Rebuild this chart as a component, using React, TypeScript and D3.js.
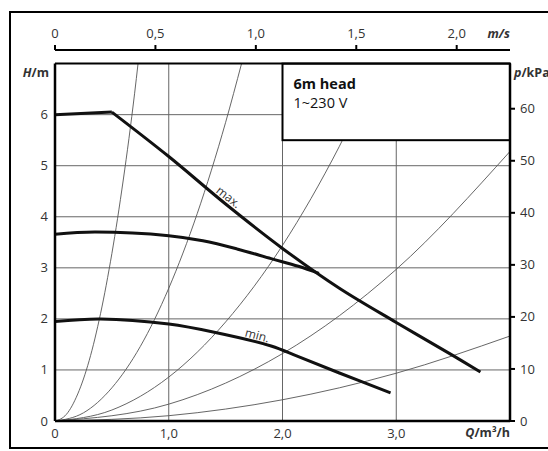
import React from "react";
import * as d3 from "d3";

// ---- data ----
const flowTicks = [0, 1, 2, 3];
const flowTickLabels = ["0", "1,0", "2,0", "3,0"];
const headTicks = [0, 1, 2, 3, 4, 5, 6];
const kpaTicks = [0, 10, 20, 30, 40, 50, 60];
const velocityTicks = [0, 0.5, 1.0, 1.5, 2.0];
const velocityTickLabels = ["0", "0,5", "1,0", "1,5", "2,0"];

// pump curves: [Q m³/h, H m]
const maxCurve: [number, number][] = [
  [0, 6.0], [0.5, 6.05], [1.0, 5.18], [1.5, 4.25], [2.0, 3.38],
  [2.5, 2.6], [3.0, 1.93], [3.5, 1.28], [3.74, 0.96],
];
const midCurve: [number, number][] = [
  [0, 3.66], [0.35, 3.7], [1.0, 3.63], [1.3, 3.53], [1.6, 3.37],
  [1.9, 3.18], [2.14, 3.03], [2.32, 2.89],
];
const minCurve: [number, number][] = [
  [0, 1.95], [0.4, 2.0], [1.0, 1.9], [1.4, 1.74], [1.9, 1.47],
  [2.14, 1.26], [2.5, 0.94], [2.95, 0.55],
];

// system curves (thin)
const sys1: [number, number][] = [
  [0, 0], [0.1, 0.13], [0.2, 0.53], [0.3, 1.18], [0.4, 2.1], [0.5, 3.28], [0.6, 4.72], [0.7, 6.42], [0.73, 7.0],
];
const sys2: [number, number][] = [
  [0, 0], [0.25, 0.16], [0.5, 0.65], [0.75, 1.46], [1.0, 2.6], [1.25, 4.06], [1.5, 5.85], [1.64, 7.0],
];
const sys3: [number, number][] = [
  [0, 0], [0.5, 0.215], [1.0, 0.86], [1.5, 1.94], [2.0, 3.44], [2.5, 5.38], [2.85, 7.0],
];
const sys4: [number, number][] = [
  [0, 0], [1, 0.33], [2, 1.32], [3, 2.97], [4, 5.28],
];
const sys5: [number, number][] = [
  [0, 0], [1, 0.104], [2, 0.416], [3, 0.936], [4, 1.664],
];
const systemCurves = [sys1, sys2, sys3, sys4, sys5];

const FONT = "'Open Sans', 'DejaVu Sans', sans-serif";
const TXT = "#333";

export default function App() {
  const W = 548, H = 451;
  const left = 55, right = 510, top = 63.6, bottom = 421;
  const x = d3.scaleLinear().domain([0, 4]).range([left, right]);
  const y = d3.scaleLinear().domain([0, 7]).range([bottom, top]);
  const yP = d3.scaleLinear().domain([0, 7 * 9.81]).range([bottom, top]);
  const xV = d3.scaleLinear().domain([0, 2]).range([left, 456.7]);

  const line = d3
    .line<[number, number]>()
    .x((d) => x(d[0]))
    .y((d) => y(d[1]))
    .curve(d3.curveMonotoneX);
  const lineSmooth = d3
    .line<[number, number]>()
    .x((d) => x(d[0]))
    .y((d) => y(d[1]))
    .curve(d3.curveCatmullRom.alpha(0.5));
  const lineStraight = d3
    .line<[number, number]>()
    .x((d) => x(d[0]))
    .y((d) => y(d[1]))
    .curve(d3.curveLinear);

  const gridH = [1, 2, 3, 4, 5, 6];
  const gridV = [1, 2, 3];
  const topAxisY = 50;

  return (
    <svg
      width={W}
      height={H}
      style={{ position: "absolute", left: 0, top: 0, background: "#fff" }}
      fontFamily={FONT}
    >
      <defs>
        <clipPath id="plot">
          <rect x={left} y={top} width={right - left} height={bottom - top} />
        </clipPath>
      </defs>
      {/* outer frame */}
      <rect x={10} y={12} width={560} height={436} fill="none" stroke="#000" strokeWidth={2} />

      {/* grid */}
      {gridH.map((v) => (
        <line key={"gh" + v} x1={left} x2={right} y1={y(v)} y2={y(v)} stroke="#666" strokeWidth={1} />
      ))}
      {gridV.map((v) => (
        <line key={"gv" + v} x1={x(v)} x2={x(v)} y1={top} y2={bottom} stroke="#666" strokeWidth={1} />
      ))}

      {/* system curves */}
      <g clipPath="url(#plot)">
        {systemCurves.map((c, i) => (
          <path key={"s" + i} d={line(c) || ""} fill="none" stroke="#555" strokeWidth={0.9} />
        ))}
      </g>

      {/* pump curves */}
      <g clipPath="url(#plot)" fill="none" stroke="#111" strokeWidth={3} strokeLinejoin="round">
        <path d={lineSmooth(midCurve) || ""} />
        <path d={lineSmooth(minCurve) || ""} />
        <path d={lineStraight(maxCurve.slice(0, 2)) || ""} />
        <path d={lineSmooth(maxCurve.slice(1)) || ""} />
      </g>

      {/* curve labels */}
      <text
        transform={`translate(${x(1.52)},${y(4.37)}) rotate(38)`}
        textAnchor="middle"
        dominantBaseline="middle"
        fontSize={12}
        fill={TXT}
      >
        max.
      </text>
      <text
        transform={`translate(${x(1.776)},${y(1.66)}) rotate(15)`}
        textAnchor="middle"
        dominantBaseline="middle"
        fontSize={12}
        fill={TXT}
      >
        min.
      </text>

      {/* info box */}
      <rect x={x(2)} y={top} width={right - x(2)} height={y(5.5) - top} fill="#fff" stroke="#000" strokeWidth={2} />
      <text x={x(2) + 11} y={89} fontSize={14.5} fontWeight="bold" fill="#111">
        6m head
      </text>
      <text x={x(2) + 11} y={108} fontSize={14.5} fill="#111">
        1~230 V
      </text>

      {/* plot frame */}
      <line x1={left} x2={right} y1={top} y2={top} stroke="#000" strokeWidth={2} />
      <line x1={left} x2={left} y1={top} y2={bottom} stroke="#000" strokeWidth={2.5} />
      <line x1={right} x2={right} y1={top} y2={bottom} stroke="#000" strokeWidth={2.5} />
      <line x1={left} x2={right} y1={bottom} y2={bottom} stroke="#000" strokeWidth={2.5} />

      {/* left axis labels */}
      {headTicks.map((v) => (
        <text key={"hl" + v} x={left - 7} y={y(v)} dy="0.35em" textAnchor="end" fontSize={13} fill={TXT}>
          {v}
        </text>
      ))}
      <text x={49} y={77} textAnchor="end" fontSize={12.5} fontWeight="bold" fill={TXT}>
        <tspan fontStyle="italic">H</tspan>/m
      </text>

      {/* right axis */}
      {kpaTicks.map((v) => (
        <g key={"kp" + v}>
          <line x1={right} x2={right + 5} y1={yP(v)} y2={yP(v)} stroke="#000" strokeWidth={2} />
          <text x={right + 10} y={yP(v)} dy="0.35em" fontSize={13} fill={TXT}>
            {v}
          </text>
        </g>
      ))}
      <text x={514} y={77} fontSize={12.5} fontWeight="bold" fill={TXT}>
        <tspan fontStyle="italic">p</tspan>/kPa
      </text>

      {/* bottom axis labels */}
      {flowTicks.map((v, i) => (
        <text key={"fl" + v} x={x(v)} y={438} textAnchor="middle" fontSize={13} fill={TXT}>
          {flowTickLabels[i]}
        </text>
      ))}
      <text x={right} y={437} textAnchor="end" fontSize={12.5} fontWeight="bold" fill={TXT}>
        <tspan fontStyle="italic">Q</tspan>/m³/h
      </text>

      {/* top velocity axis */}
      <line x1={left} x2={right} y1={topAxisY} y2={topAxisY} stroke="#000" strokeWidth={2} />
      {velocityTicks.map((v, i) => (
        <g key={"v" + v}>
          <line x1={xV(v)} x2={xV(v)} y1={topAxisY} y2={topAxisY - 5} stroke="#000" strokeWidth={2} />
          <text x={xV(v)} y={38} textAnchor="middle" fontSize={13} fill={TXT}>
            {velocityTickLabels[i]}
          </text>
        </g>
      ))}
      <text x={right} y={38} textAnchor="end" fontSize={12.5} fontWeight="bold" fontStyle="italic" fill={TXT}>
        m/s
      </text>
    </svg>
  );
}
